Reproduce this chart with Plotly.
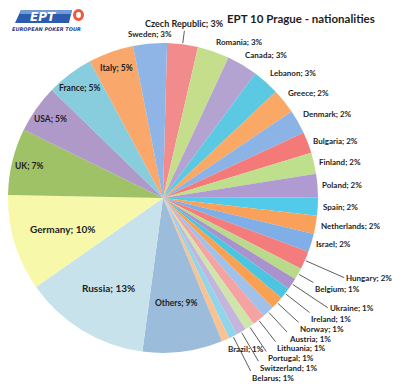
import math
import plotly.graph_objects as go

# ---------------- data ----------------
countries = ["Czech Republic", "Romania", "Canada", "Lebanon", "Greece", "Denmark",
             "Bulgaria", "Finland", "Poland", "Spain", "Netherlands", "Israel",
             "Hungary", "Belgium", "Ukraine", "Ireland", "Norway", "Austria",
             "Lithuania", "Portugal", "Switzerland", "Belarus", "Brazil", "Others",
             "Russia", "Germany", "UK", "USA", "France", "Italy", "Sweden"]
shares = [3.2, 3.3, 3.2, 2.8, 2.6, 2.5,
          2.2, 2.2, 2.4, 1.9, 1.9, 1.9,
          1.9, 1.2, 1.2, 1.2, 1.3, 1.3,
          1.3, 1.0, 1.0, 0.9, 0.8, 8.3,
          13.1, 10.0, 6.9, 5.0, 4.9, 4.7, 3.5]
label_pct = ["3%", "3%", "3%", "3%", "2%", "2%",
             "2%", "2%", "2%", "2%", "2%", "2%",
             "2%", "1%", "1%", "1%", "1%", "1%",
             "1%", "1%", "1%", "1%", "1%", "9%",
             "13%", "10%", "7%", "5%", "5%", "5%", "3%"]
inside_labels = ["Others", "Russia", "Germany", "UK", "USA", "France", "Italy"]
title_text = "EPT 10 Prague - nationalities"

# ---------------- style ----------------
colors = ["#F28C8C", "#C4DE8C", "#B4A3D0", "#5CC9E2", "#F9A865", "#8CB3E6",
          "#F47A7A", "#BEDF8B", "#AF9BD1", "#52CBEA", "#F9A15A", "#80AEE6",
          "#F47C7C", "#B9DA8B", "#AA92CD", "#4CC5E0", "#F9A152", "#9FC1EA",
          "#F4A2A2", "#D0E5AA", "#C3B5DB", "#90D5EA", "#F9C293", "#9BBCDB",
          "#C8E2EC", "#F8F8AA", "#9EC265", "#AE99C9", "#87CDDD", "#F9A76B", "#8EB5E6"]
OFF = 8                      # page body margin of the html page
W, H = 400 - OFF, 385 - OFF  # figure size so it fits in the window
CX, CY, R = 163, 198, 155    # pie centre / radius in window pixels
START = 1.5
FONT = "Lato, Carlito, 'Open Sans', sans-serif"
TXT = "#1e1e1e"
DENSE = (110, 130)           # angular zone where labels alternate near / far
G_NEAR, G_FAR = 4, 44

def px2paper(x, y):
    return (x - OFF) / W, 1 - (y - OFF) / H

def text_w(s, size):
    w = 0
    for ch in s:
        if ch in "il;:.,'|j":
            e = 0.26
        elif ch == "I":
            e = 0.30
        elif ch in "tf":
            e = 0.35
        elif ch == "r":
            e = 0.38
        elif ch == "s":
            e = 0.43
        elif ch in "czy":
            e = 0.47
        elif ch == " ":
            e = 0.2
        elif ch.isdigit():
            e = 0.58
        elif ch == "%":
            e = 0.80
        elif ch in "mw":
            e = 0.82
        elif ch.isupper():
            e = 0.66
        else:
            e = 0.54
        w += e
    return w * size

total = sum(shares)
angles = []
a = START
for v in shares:
    span = v / total * 360
    angles.append((a, a + span))
    a += span

def pt(theta_deg, r):
    t = math.radians(theta_deg)
    return CX + r * math.sin(t), CY - r * math.cos(t)

annotations = []
shapes = []

# ---- inside labels ----
for i, name in enumerate(countries):
    if name not in inside_labels:
        continue
    mid = sum(angles[i]) / 2
    frac = 0.68 if shares[i] >= 8 else 0.89
    size = 10 if shares[i] >= 10 else 8.5
    x, y = pt(mid, frac * R)
    px, py = px2paper(x, y)
    annotations.append(dict(x=px, y=py, xref="paper", yref="paper", showarrow=False,
                            text="<b>%s; %s</b>" % (name, label_pct[i]),
                            font=dict(family=FONT, size=size, color=TXT),
                            xanchor="center", yanchor="middle"))

# ---- outside labels with simple de-overlap ----
outs = []
for i, name in enumerate(countries):
    if name in inside_labels:
        continue
    mid = sum(angles[i]) / 2
    rim = pt(mid, R)
    outs.append((rim[1], i, mid))
outs.sort()

placed = []
k_dense = 0
for _, i, mid in outs:
    name = countries[i]
    size = 9 if name == "Czech Republic" else 8
    txt = "%s; %s" % (name, label_pct[i])
    w = text_w(txt, size) + 2
    h = size * 1.2
    s, c = math.sin(math.radians(mid)), math.cos(math.radians(mid))
    xa = "left" if s > 0.25 else ("right" if s < -0.25 else "center")
    ya = "bottom" if c > 0.4 else ("top" if c < -0.4 else "middle")
    g0 = G_NEAR
    if DENSE[0] <= mid < DENSE[1]:
        if k_dense % 2 == 0:
            g0 = G_FAR
            ya = "middle"
        k_dense += 1
    g = g0
    while True:
        x, y = pt(mid, R + g)
        x0 = x if xa == "left" else (x - w if xa == "right" else x - w / 2)
        y0 = y if ya == "top" else (y - h if ya == "bottom" else y - h / 2)
        box = (x0, y0, x0 + w, y0 + h)
        ok = all(box[2] <= b[0] or box[0] >= b[2] or box[3] <= b[1] or box[1] >= b[3]
                 for b in placed)
        if ok or g > 90:
            break
        g += 0.5
    placed.append(box)
    px, py = px2paper(x, y)
    annotations.append(dict(x=px, y=py, xref="paper", yref="paper", showarrow=False,
                            text="<b>%s</b>" % txt,
                            font=dict(family=FONT, size=size, color=TXT),
                            xanchor=xa, yanchor=ya, borderpad=0))
    if g - G_NEAR > 3:
        lx0, ly0 = pt(mid, R + 1)
        lx1, ly1 = pt(mid, R + g - 1)
        a0 = px2paper(lx0, ly0)
        a1 = px2paper(lx1, ly1)
        shapes.append(dict(type="line", xref="paper", yref="paper",
                           x0=a0[0], y0=a0[1], x1=a1[0], y1=a1[1],
                           line=dict(color="#333333", width=0.8)))

# ---- title ----
tx, ty = px2paper(301, 18)
annotations.append(dict(x=tx, y=ty, xref="paper", yref="paper", showarrow=False,
                        text="<b>%s</b>" % title_text,
                        font=dict(family=FONT, size=11.5, color=TXT),
                        xanchor="center", yanchor="middle"))

# ---- EPT logo (decoration) ----
def path(points):
    return "M " + " L ".join("%.4f,%.4f" % px2paper(x, y) for x, y in points) + " Z"

shapes.append(dict(type="path", xref="paper", yref="paper",
                   path=path([(21, 10), (72, 10), (69, 23), (15, 23)]),
                   fillcolor="#2D5BAE", line=dict(width=0)))
shapes.append(dict(type="path", xref="paper", yref="paper",
                   path=path([(21, 10), (72, 10), (71, 14), (19, 14)]),
                   fillcolor="#6F9BDA", line=dict(width=0)))
cx0, cy0 = px2paper(73, 9)
cx1, cy1 = px2paper(84, 21)
shapes.append(dict(type="circle", xref="paper", yref="paper",
                   x0=cx0, y0=cy0, x1=cx1, y1=cy1,
                   fillcolor="#EE5A3A", line=dict(width=0)))
cx0, cy0 = px2paper(76, 12)
cx1, cy1 = px2paper(81, 18)
shapes.append(dict(type="circle", xref="paper", yref="paper",
                   x0=cx0, y0=cy0, x1=cx1, y1=cy1,
                   fillcolor="#FFFFFF", line=dict(width=0)))
lx, ly = px2paper(43, 16.5)
annotations.append(dict(x=lx, y=ly, xref="paper", yref="paper", showarrow=False,
                        text="<b><i>EPT</i></b>",
                        font=dict(family="'DejaVu Sans', sans-serif", size=12, color="#FFFFFF"),
                        xanchor="center", yanchor="middle"))
lx, ly = px2paper(46, 29)
annotations.append(dict(x=lx, y=ly, xref="paper", yref="paper", showarrow=False,
                        text="<b><i>EUROPEAN POKER TOUR</i></b>",
                        font=dict(family="'DejaVu Sans', sans-serif", size=5, color="#1F3C88"),
                        xanchor="center", yanchor="middle"))

d0 = px2paper(CX - R, CY + R)
d1 = px2paper(CX + R, CY - R)

fig = go.Figure(go.Pie(
    labels=countries, values=shares, sort=False, direction="clockwise",
    rotation=START, marker=dict(colors=colors, line=dict(width=0)),
    textinfo="none", hoverinfo="label+percent", showlegend=False,
    domain=dict(x=[d0[0], d1[0]], y=[d0[1], d1[1]])))

fig.update_layout(width=W, height=H, margin=dict(l=0, r=0, t=0, b=0),
                  paper_bgcolor="white", plot_bgcolor="white",
                  annotations=annotations, shapes=shapes,
                  font=dict(family=FONT))
fig.write_html("out.html")
